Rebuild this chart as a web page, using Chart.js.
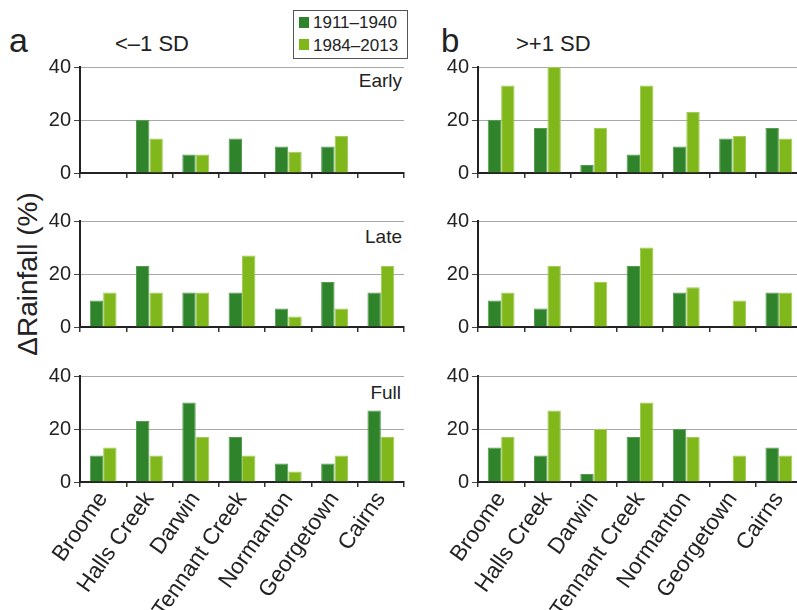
<!DOCTYPE html>
<html>
<head>
<meta charset="utf-8">
<script src="https://cdn.jsdelivr.net/npm/chart.js@4"></script>
<style>
  html, body { margin: 0; padding: 0; width: 797px; height: 610px; overflow: hidden; background: #fff;
    font-family: 'Liberation Sans', Arial, Helvetica, sans-serif; color: #222; }
  canvas.pane { position: absolute; }
  .txt { position: absolute; white-space: nowrap; line-height: 1; }
  .legend { position: absolute; left: 293px; top: 10px; width: 113px; height: 47px; border: 1px solid #555; }
  .sw { position: absolute; width: 10px; height: 11px; }
</style>
</head>
<body>

<div class="txt" style="left:9px;top:23px;font-size:34px;">a</div>
<div class="txt" style="left:115px;top:33px;font-size:22px;">&lt;–1 SD</div>
<div class="txt" style="left:441px;top:24px;font-size:33px;">b</div>
<div class="txt" style="left:516px;top:33px;font-size:22px;">&gt;+1 SD</div>

<div class="txt" style="right:395px;top:70.5px;font-size:19px;">Early</div>
<div class="txt" style="right:395px;top:227px;font-size:19px;">Late</div>
<div class="txt" style="right:396px;top:383px;font-size:19px;">Full</div>

<div class="txt" id="ytitle" style="left:28px;top:274px;font-size:28px;transform:translate(-50%,-50%) rotate(-90deg);">ΔRainfall (%)</div>

<div class="legend" id="legend"></div>

<script>
// Stations along the northern Australian transect
const stations = ['Broome', 'Halls Creek', 'Darwin', 'Tennant Creek', 'Normanton', 'Georgetown', 'Cairns'];
const periods = ['1911–1940', '1984–2013'];
const yTicks = [0, 20, 40];

// Change in rainfall (%) for years below -1 SD
const dryEarly1911 = [0, 20, 7, 13, 10, 10, 0];
const dryEarly1984 = [0, 13, 7, 0, 8, 14, 0];
const dryLate1911  = [10, 23, 13, 13, 7, 17, 13];
const dryLate1984  = [13, 13, 13, 27, 4, 7, 23];
const dryFull1911  = [10, 23, 30, 17, 7, 7, 27];
const dryFull1984  = [13, 10, 17, 10, 4, 10, 17];

// Change in rainfall (%) for years above +1 SD
const wetEarly1911 = [20, 17, 3, 7, 10, 13, 17];
const wetEarly1984 = [33, 40, 17, 33, 23, 14, 13];
const wetLate1911  = [10, 7, 0, 23, 13, 0, 13];
const wetLate1984  = [13, 23, 17, 30, 15, 10, 13];
const wetFull1911  = [13, 10, 3, 17, 20, 0, 13];
const wetFull1984  = [17, 27, 20, 30, 17, 10, 10];

const colours = ['#2f832a', '#80b71a'];
const edges = ['#559c50', '#a2cc58'];

// legend
const legend = document.getElementById('legend');
periods.forEach((p, i) => {
  const sw = document.createElement('div');
  sw.className = 'sw';
  sw.style.left = '5px';
  sw.style.top = (6 + i * 22) + 'px';
  sw.style.background = colours[i];
  legend.appendChild(sw);
  const t = document.createElement('div');
  t.className = 'txt';
  t.style.left = '19px';
  t.style.top = (3 + i * 22.5) + 'px';
  t.style.fontSize = '17px';
  t.textContent = p;
  legend.appendChild(t);
});

const FONT = "'Liberation Sans', Arial, Helvetica, sans-serif";
const PLOT_H = 106;
const Y_W = 60, PAD_TOP = 15, PAD_RIGHT = 6;

function panel(left, plotTop, a, b, showLabels) {
  const xh = showLabels ? 150 : 20;
  const c = document.createElement('canvas');
  c.className = 'pane';
  const w = 390, h = PAD_TOP + PLOT_H + xh;
  c.width = w; c.height = h;
  c.style.left = (left - Y_W) + 'px';
  c.style.top = (plotTop - PAD_TOP) + 'px';
  c.style.width = w + 'px'; c.style.height = h + 'px';
  document.body.appendChild(c);
  new Chart(c, {
    type: 'bar',
    data: {
      labels: stations,
      datasets: [a, b].map((d, i) => ({
        label: periods[i],
        data: d,
        backgroundColor: colours[i],
        borderColor: edges[i],
        borderWidth: 1,
        categoryPercentage: 0.58,
        barPercentage: 1.0
      }))
    },
    options: {
      responsive: false,
      animation: false,
      devicePixelRatio: 1,
      layout: { padding: { top: PAD_TOP, right: PAD_RIGHT, left: 0, bottom: 0 } },
      plugins: { legend: { display: false }, tooltip: { enabled: false } },
      scales: {
        x: {
          afterFit: s => { s.height = xh; },
          grid: { offset: true, drawOnChartArea: false, drawTicks: true, tickLength: 5, tickColor: '#333', lineWidth: 1.5 },
          border: { display: true, color: '#222', width: 2 },
          ticks: {
            display: showLabels, autoSkip: false, minRotation: 55, maxRotation: 55,
            padding: 0, color: '#222', font: { family: FONT, size: 22.5 }
          }
        },
        y: {
          min: 0, max: 40,
          afterFit: s => { s.width = Y_W; },
          afterBuildTicks: s => { s.ticks = yTicks.map(v => ({ value: v })); },
          grid: { color: '#a8a8a8', lineWidth: 1, tickLength: 6, tickColor: '#444' },
          border: { display: true, color: '#222', width: 2 },
          ticks: { padding: 3, color: '#222', font: { family: FONT, size: 20 } }
        }
      }
    }
  });
}

const colA = 80, colB = 477.7;
const rowTops = [66.7, 221.3, 376];

panel(colA, rowTops[0], dryEarly1911, dryEarly1984, false);
panel(colA, rowTops[1], dryLate1911, dryLate1984, false);
panel(colA, rowTops[2], dryFull1911, dryFull1984, true);
panel(colB, rowTops[0], wetEarly1911, wetEarly1984, false);
panel(colB, rowTops[1], wetLate1911, wetLate1984, false);
panel(colB, rowTops[2], wetFull1911, wetFull1984, true);
</script>
</body>
</html>
